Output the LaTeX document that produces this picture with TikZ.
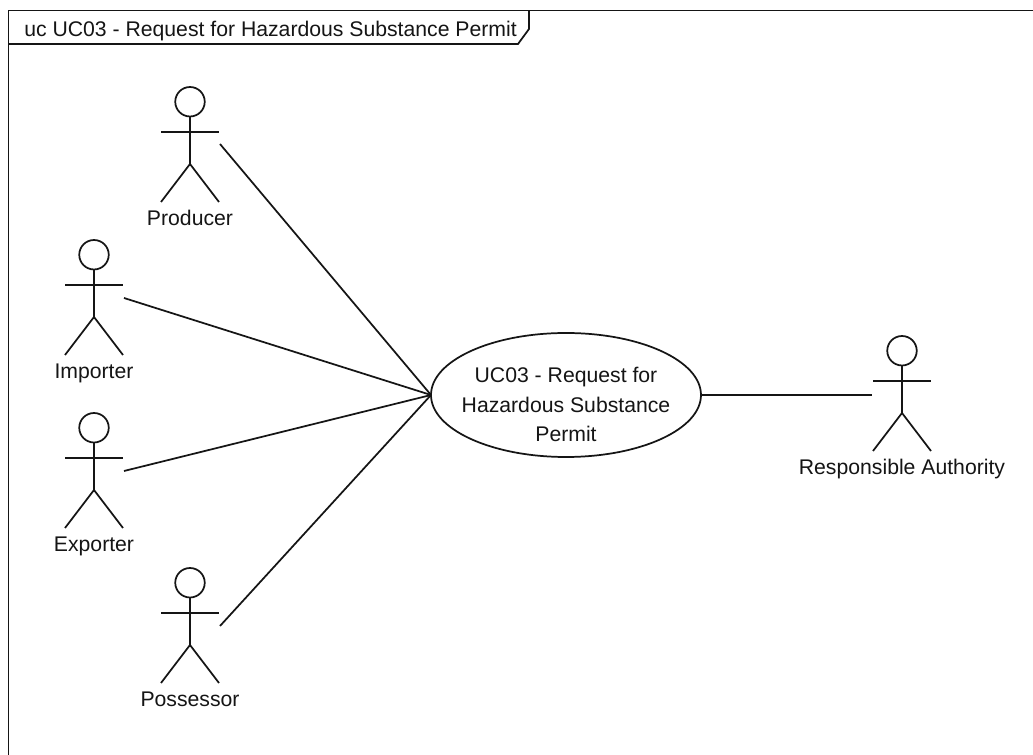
\documentclass[tikz,border=0pt]{standalone}
\usepackage{fontspec}
\setmainfont{Liberation Sans}
\usetikzlibrary{shapes.geometric}
\definecolor{ink}{HTML}{151515}
\tikzset{
  x=0.75pt,y=-0.75pt,
  line/.style={draw=ink,line width=1.3pt},
  lab/.style={text=ink,font=\fontsize{15.9pt}{15.9pt}\selectfont,inner sep=0pt},
  usecase/.style={ellipse,draw=ink,line width=1.3pt,outer sep=0pt,minimum width=270*0.75pt,minimum height=124*0.75pt,inner xsep=-14pt,inner ysep=-14pt,align=center,text=ink,font=\fontsize{15.9pt}{22pt}\selectfont},
  head/.style={circle,draw=ink,line width=1.3pt,outer sep=0pt,minimum size=29.5*0.75pt,inner sep=0pt}
}
\newcommand{\actor}[4]{% name, x of body, y of head top, label
  \node[head,anchor=north] (#1h) at (#2,#3) {};
  \coordinate (#1c) at (#2,#3+77);
  \coordinate (#1la) at (#2-29,#3+45);
  \coordinate (#1ra) at (#2+29,#3+45);
  \coordinate (#1lf) at (#2-29,#3+115);
  \coordinate (#1rf) at (#2+29,#3+115);
  \draw[line] (#1h.south) -- (#1c);
  \draw[line] (#1la) -- (#1ra);
  \draw[line] (#1lf) -- (#1c) -- (#1rf);
  \node[lab,anchor=mid] (#1t) at (#2,#3+135) {#4};
}
\begin{document}
\begin{tikzpicture}
\useasboundingbox (0,0) rectangle (1033,755);
\path[fill=white] (0,0) rectangle (1033,755);
\draw[line] (8.5,755) -- (8.5,10.5) -- (1033,10.5);
\draw[line] (8.5,44) -- (518,44) -- (529,29) -- (529,10.5);
\node[lab,anchor=mid west] (title) at (24,32.5) {uc UC03 - Request for Hazardous Substance Permit};
\actor{pr}{190}{87}{Producer}
\actor{im}{94}{240}{Importer}
\actor{ex}{94}{413}{Exporter}
\actor{po}{190}{568}{Possessor}
\actor{ra}{902}{336}{Responsible Authority}
\node[usecase] (uc) at (566,395) {\rule{0pt}{26pt}UC03 - Request for\\Hazardous Substance\\Permit};
\coordinate (a1) at (220,144);
\coordinate (a2) at (124,298);
\coordinate (a3) at (124,471);
\coordinate (a4) at (220,626);
\coordinate (a5) at (872,395);
\draw[line] (a1) -- (uc.west);
\draw[line] (a2) -- (uc.west);
\draw[line] (a3) -- (uc.west);
\draw[line] (a4) -- (uc.west);
\draw[line] (uc.east) -- (a5);
\end{tikzpicture}
\end{document}
